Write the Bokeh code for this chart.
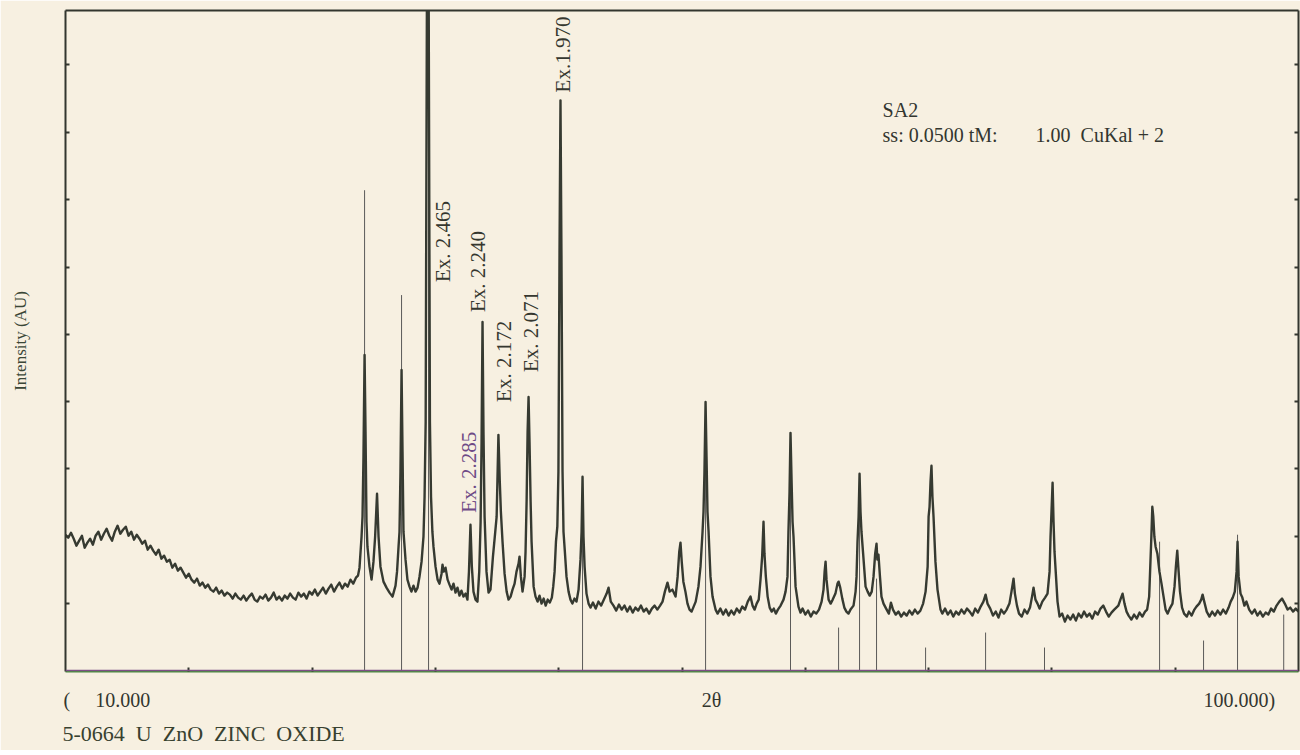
import math
from bokeh.plotting import figure
from bokeh.models import Range1d, LinearAxis, FixedTicker, Label, Span, Title
from bokeh.embed import file_html
from bokeh.resources import INLINE

# ---------------- data (2-theta in degrees, intensity in arbitrary units) ----------------
scan_points = [
    (10.0, 137), (10.2, 134), (10.4, 139), (10.6, 133), (10.8, 126), (11.0, 131), (11.2, 136), (11.4, 124), (11.6, 129), (11.8, 133),
    (12.0, 127), (12.2, 136), (12.4, 140), (12.6, 132), (12.8, 138), (13.0, 143), (13.2, 136), (13.4, 131), (13.6, 140), (13.8, 146),
    (14.0, 138), (14.2, 142), (14.4, 145), (14.6, 136), (14.8, 140), (15.0, 132), (15.2, 137), (15.4, 133), (15.6, 128), (15.8, 131),
    (16.0, 122), (16.2, 126), (16.4, 121), (16.6, 117), (16.8, 122), (17.0, 113), (17.2, 116), (17.4, 110), (17.6, 112), (17.8, 104),
    (18.0, 108), (18.2, 101), (18.4, 104), (18.6, 99), (18.8, 94), (19.0, 98), (19.2, 92), (19.4, 89), (19.6, 93), (19.8, 86),
    (20.0, 89), (20.2, 84), (20.4, 87), (20.6, 82), (20.8, 80), (21.0, 84), (21.2, 78), (21.4, 81), (21.6, 76), (21.8, 79),
    (22.0, 77), (22.2, 73), (22.4, 78), (22.6, 74), (22.8, 72), (23.0, 76), (23.2, 71), (23.4, 75), (23.6, 78), (23.8, 72),
    (24.0, 70), (24.2, 75), (24.4, 73), (24.6, 77), (24.8, 71), (25.0, 74), (25.2, 79), (25.4, 72), (25.6, 75), (25.8, 71),
    (26.0, 76), (26.2, 73), (26.4, 78), (26.6, 74), (26.8, 72), (27.0, 79), (27.2, 75), (27.4, 78), (27.6, 73), (27.8, 80),
    (28.0, 77), (28.2, 82), (28.4, 76), (28.6, 80), (28.8, 84), (29.0, 78), (29.2, 83), (29.4, 87), (29.6, 80), (29.8, 85),
    (30.0, 89), (30.2, 83), (30.4, 88), (30.6, 85), (30.8, 92), (31.0, 88), (31.2, 94),
    (31.35, 96), (31.46, 104), (31.61, 135), (31.68, 155), (31.75, 215), (31.83, 317), (31.9, 240), (31.97, 150), (32.04, 125),
    (32.19, 105), (32.34, 92), (32.48, 110), (32.6, 135), (32.74, 178), (32.85, 135), (32.99, 105), (33.21, 90), (33.43, 84),
    (33.65, 79), (33.87, 75), (34.09, 86), (34.2, 100), (34.31, 125), (34.38, 140), (34.45, 200), (34.53, 302), (34.6, 220),
    (34.67, 140), (34.82, 112), (34.96, 92), (35.11, 85), (35.25, 80), (35.4, 86), (35.55, 80), (35.7, 84), (35.84, 95),
    (35.99, 110), (36.13, 135), (36.21, 175), (36.29, 250), (36.39, 720), (36.5, 720), (36.6, 250), (36.68, 175),
    (36.78, 140), (36.86, 125), (37.01, 105), (37.16, 92), (37.3, 88), (37.45, 98), (37.52, 107), (37.6, 100), (37.74, 104),
    (37.89, 92), (38.03, 87), (38.18, 82), (38.32, 88), (38.47, 79), (38.61, 84), (38.76, 76), (38.9, 81), (39.05, 75),
    (39.2, 78), (39.34, 72), (39.45, 100), (39.56, 147), (39.66, 105), (39.78, 80), (39.93, 72), (40.07, 70), (40.2, 100),
    (40.3, 150), (40.37, 230), (40.44, 350), (40.51, 240), (40.59, 155), (40.73, 100), (40.88, 79), (41.02, 82), (41.2, 115),
    (41.37, 140), (41.47, 155), (41.6, 237), (41.7, 190), (41.78, 160), (41.9, 130), (42.05, 98), (42.2, 80), (42.34, 72),
    (42.49, 75), (42.63, 82), (42.78, 88), (42.92, 100), (43.07, 108), (43.14, 115), (43.24, 95), (43.36, 80), (43.51, 95),
    (43.58, 120), (43.66, 172), (43.73, 240), (43.8, 275), (43.87, 230), (43.95, 170), (44.02, 130), (44.17, 85), (44.31, 75),
    (44.46, 70), (44.6, 76), (44.75, 68), (44.9, 73), (45.05, 66), (45.2, 72), (45.35, 69), (45.5, 74), (45.6, 85), (45.7, 100),
    (45.8, 130), (45.9, 145), (45.98, 200), (46.06, 420), (46.13, 572), (46.2, 420), (46.28, 200), (46.35, 140), (46.45, 120),
    (46.57, 95), (46.72, 80), (46.86, 72), (47.0, 68), (47.15, 73), (47.3, 70), (47.45, 82), (47.59, 112), (47.67, 140),
    (47.74, 195), (47.81, 135), (47.89, 105), (48.03, 78), (48.18, 68), (48.33, 64),
    (48.5, 69), (48.7, 63), (48.9, 70), (49.1, 66), (49.3, 72), (49.5, 78), (49.64, 84), (49.8, 70), (50.0, 66), (50.2, 61),
    (50.4, 67), (50.6, 62), (50.8, 66), (51.0, 60), (51.2, 65), (51.4, 59), (51.6, 64), (51.8, 61), (52.0, 66), (52.2, 60),
    (52.4, 63), (52.6, 58), (52.8, 63), (53.0, 66), (53.2, 62), (53.4, 66), (53.58, 70), (53.75, 80), (53.94, 89), (54.1, 80),
    (54.3, 82), (54.53, 75), (54.68, 95), (54.8, 120), (54.89, 129), (54.98, 110), (55.1, 90), (55.25, 80), (55.4, 68),
    (55.55, 62), (55.7, 60), (55.85, 65), (56.0, 70), (56.2, 85), (56.35, 105), (56.5, 140), (56.57, 160), (56.64, 200),
    (56.72, 270), (56.79, 215), (56.86, 160), (56.94, 140), (57.08, 95), (57.23, 75), (57.45, 62), (57.6, 58), (57.8, 63),
    (58.0, 57), (58.2, 62), (58.4, 56), (58.6, 61), (58.8, 57), (59.0, 63), (59.2, 59), (59.4, 65), (59.6, 62), (59.8, 70),
    (60.0, 75), (60.15, 66), (60.3, 62), (60.45, 68), (60.6, 72), (60.73, 92), (60.85, 115), (60.95, 150), (61.02, 118),
    (61.12, 95), (61.25, 75), (61.4, 64), (61.55, 60), (61.7, 63), (61.85, 58), (62.0, 62), (62.2, 66), (62.41, 72),
    (62.56, 80), (62.7, 95), (62.77, 140), (62.85, 180), (62.92, 239), (63.0, 190), (63.07, 150), (63.14, 135), (63.29, 85),
    (63.5, 65), (63.65, 59), (63.8, 63), (64.0, 57), (64.2, 61), (64.4, 55), (64.6, 60), (64.8, 58), (65.0, 62), (65.19, 70),
    (65.33, 82), (65.41, 100), (65.48, 110), (65.55, 92), (65.7, 72), (65.85, 68), (66.0, 72), (66.2, 78), (66.35, 88),
    (66.43, 90), (66.55, 84), (66.7, 73), (66.85, 64), (67.0, 60), (67.15, 58), (67.3, 62), (67.52, 66), (67.67, 80),
    (67.74, 95), (67.81, 130), (67.89, 155), (67.96, 198), (68.03, 160), (68.1, 140), (68.21, 120), (68.4, 85), (68.55, 80),
    (68.7, 76), (68.85, 80), (68.98, 95), (69.1, 118), (69.2, 128), (69.26, 112), (69.34, 117), (69.45, 95), (69.56, 75),
    (69.71, 68), (69.9, 63), (70.1, 58), (70.25, 69), (70.4, 62), (70.6, 57), (70.8, 60), (71.0, 55), (71.2, 59), (71.4, 56),
    (71.6, 61), (71.8, 57), (72.0, 62), (72.2, 58), (72.4, 61), (72.6, 68), (72.78, 80), (72.93, 105), (73.0, 155),
    (73.07, 165), (73.14, 190), (73.21, 206), (73.28, 175), (73.36, 155), (73.5, 110), (73.65, 82), (73.87, 62), (74.0, 58),
    (74.2, 63), (74.4, 57), (74.6, 61), (74.8, 55), (75.0, 60), (75.2, 57), (75.4, 62), (75.6, 58), (75.8, 63), (76.0, 60),
    (76.2, 56), (76.4, 63), (76.6, 59), (76.8, 65), (77.0, 70), (77.16, 77), (77.3, 68), (77.5, 63), (77.7, 56), (77.9, 60),
    (78.1, 54), (78.3, 62), (78.5, 58), (78.7, 62), (78.9, 68), (79.05, 80), (79.2, 93), (79.3, 78), (79.45, 66), (79.6, 58),
    (79.8, 55), (80.0, 62), (80.2, 58), (80.4, 64), (80.55, 75), (80.66, 84), (80.8, 72), (80.95, 68), (81.1, 63), (81.3, 70),
    (81.5, 74), (81.68, 78), (81.83, 100), (81.9, 135), (81.97, 160), (82.05, 189), (82.12, 150), (82.19, 120), (82.27, 102),
    (82.41, 70), (82.56, 55), (82.75, 58), (82.95, 50), (83.15, 56), (83.35, 52), (83.55, 57), (83.75, 51), (83.95, 58),
    (84.15, 54), (84.35, 60), (84.55, 55), (84.75, 58), (84.95, 53), (85.15, 60), (85.35, 57), (85.55, 63), (85.75, 66),
    (85.95, 60), (86.15, 55), (86.35, 59), (86.55, 62), (86.7, 64), (86.85, 66), (87.0, 72), (87.16, 78), (87.3, 68),
    (87.45, 60), (87.6, 56), (87.8, 52), (88.0, 57), (88.2, 53), (88.4, 59), (88.6, 55), (88.8, 60), (88.95, 62), (89.1, 75),
    (89.18, 105), (89.26, 135), (89.33, 165), (89.4, 155), (89.48, 135), (89.57, 125), (89.7, 118), (89.85, 100), (90.0, 88),
    (90.15, 75), (90.3, 62), (90.45, 58), (90.6, 63), (90.8, 68), (90.95, 85), (91.05, 105), (91.15, 121), (91.25, 100),
    (91.35, 80), (91.5, 64), (91.65, 58), (91.85, 55), (92.0, 60), (92.2, 56), (92.4, 62), (92.55, 65), (92.75, 68), (92.9, 72),
    (93.0, 77), (93.12, 70), (93.3, 60), (93.5, 55), (93.7, 60), (93.9, 56), (94.1, 61), (94.3, 57), (94.5, 62), (94.7, 58),
    (94.9, 64), (95.05, 70), (95.2, 74), (95.35, 80), (95.48, 100), (95.55, 130), (95.63, 95), (95.77, 78), (95.9, 74),
    (96.05, 66), (96.2, 70), (96.4, 62), (96.6, 58), (96.8, 62), (97.0, 56), (97.2, 60), (97.4, 55), (97.6, 59), (97.8, 57),
    (98.0, 63), (98.2, 60), (98.4, 66), (98.6, 70), (98.8, 73), (99.0, 68), (99.2, 62), (99.4, 64), (99.6, 60), (99.8, 63),
    (100.0, 60),
]
two_theta = [pt[0] for pt in scan_points]
intensity = [pt[1] for pt in scan_points]

# reference pattern 5-0664 ZnO (stick lines)
stick_theta = [31.83, 34.53, 36.50, 47.74, 56.72, 62.92, 66.43, 67.96, 69.20, 72.78, 77.16, 81.46, 89.86, 93.07, 95.55, 98.92]
stick_height = [482, 377, 662, 194, 265, 232, 44, 185, 93, 24, 39, 24, 130, 31, 137, 57]

# peak annotations (d-spacings of extra peaks)
ex_text = ["Ex. 2.465", "Ex. 2.285", "Ex. 2.240", "Ex. 2.172", "Ex. 2.071", "Ex.1.970"]
ex_theta = [37.59, 39.45, 40.11, 42.01, 43.98, 46.32]
ex_height = [390, 159, 360, 270, 300, 580]
ex_color = ["#35372f", "#6e4a86", "#35372f", "#35372f", "#35372f", "#35372f"]

# axis texts and tick marks
x_label_pos = [13.02, 57.15, 95.69]
x_label_text = ["(\u00a0\u00a0\u00a0\u00a0\u00a010.000", "2θ", "100.000)"]
x_minor_ticks = [19, 28, 37, 46, 55, 64, 73, 82, 91]
y_minor_ticks = [68, 135, 203, 270, 338, 405, 473, 540, 608]
card_caption = "5-0664\u00a0\u00a0U\u00a0\u00a0ZnO\u00a0\u00a0ZINC\u00a0\u00a0OXIDE"

# ---------------- styling ----------------
PAPER = "#f7f0e1"
INK = "#33362f"
SERIF = "Liberation Serif"

p = figure(width=1300, height=750, output_backend="svg", toolbar_location=None,
           x_range=Range1d(10, 100), y_range=Range1d(0, 662),
           x_axis_location=None, y_axis_location=None,
           min_border_left=65, min_border_right=2, min_border_top=10, min_border_bottom=78)
p.background_fill_color = PAPER
p.border_fill_color = PAPER
p.outline_line_color = None
p.xgrid.visible = False
p.ygrid.visible = False


def frame_axis(minor, line_color):
    ax = LinearAxis(ticker=FixedTicker(ticks=[], minor_ticks=minor))
    ax.major_label_standoff = 0
    ax.major_tick_in = 0
    ax.major_tick_out = 0
    ax.minor_tick_in = 4
    ax.minor_tick_out = 0
    ax.minor_tick_line_color = INK
    ax.minor_tick_line_width = 2
    ax.axis_line_color = line_color
    ax.axis_line_width = 2
    return ax


left_axis = frame_axis(y_minor_ticks, INK)
left_axis.axis_label = "Intensity (AU)"
left_axis.axis_label_text_font = SERIF
left_axis.axis_label_text_font_size = "17px"
left_axis.axis_label_text_font_style = "normal"
left_axis.axis_label_text_color = "#3a4636"
left_axis.axis_label_standoff = 36
p.add_layout(left_axis, "left")
p.add_layout(frame_axis(y_minor_ticks, INK), "right")
p.add_layout(frame_axis([], INK), "above")

bottom_axis = LinearAxis(ticker=FixedTicker(ticks=x_label_pos, minor_ticks=x_minor_ticks))
bottom_axis.major_label_overrides = dict(zip(x_label_pos, x_label_text))
bottom_axis.major_label_text_font = SERIF
bottom_axis.major_label_text_font_size = "20px"
bottom_axis.major_label_text_color = INK
bottom_axis.major_label_standoff = 17
bottom_axis.major_tick_line_color = None
bottom_axis.major_tick_in = 0
bottom_axis.major_tick_out = 0
bottom_axis.minor_tick_in = 4
bottom_axis.minor_tick_out = 0
bottom_axis.minor_tick_line_color = INK
bottom_axis.minor_tick_line_width = 2
bottom_axis.axis_line_color = "#4f8a45"
bottom_axis.axis_line_width = 2
p.add_layout(bottom_axis, "below")
p.add_layout(Title(text=card_caption, align="left", offset=-3, text_font=SERIF, text_font_size="22px",
                   text_font_style="normal", text_color="#38412f", standoff=10), "below")
p.add_layout(Span(location=1, dimension="width", line_color="#7d4f86", line_width=1.6))

# stick pattern
p.segment(x0=stick_theta, y0=[0] * len(stick_theta), x1=stick_theta, y1=stick_height,
          line_color="#4a4a4a", line_width=1, line_alpha=0.9)

# measured scan
p.line(two_theta, intensity, line_color="#363a31", line_width=2.4, line_join="round")

# peak labels
for t, x, y, c in zip(ex_text, ex_theta, ex_height, ex_color):
    p.add_layout(Label(x=x, y=y, text=t, angle=math.pi / 2, text_align="left", text_baseline="middle",
                       text_font=SERIF, text_font_size="21px", text_color=c))

# header text
p.add_layout(Label(x=69.64, y=562, text="SA2", text_font=SERIF, text_font_size="20px",
                   text_color=INK, text_baseline="alphabetic"))
p.add_layout(Label(x=69.64, y=537, text="ss: 0.0500 tM:", text_font=SERIF, text_font_size="20px",
                   text_color=INK, text_baseline="alphabetic"))
p.add_layout(Label(x=80.81, y=537, text="1.00\u00a0\u00a0CuKal + 2", text_font=SERIF, text_font_size="20px",
                   text_color=INK, text_baseline="alphabetic"))

open("out.html", "w").write(file_html(p, INLINE))
